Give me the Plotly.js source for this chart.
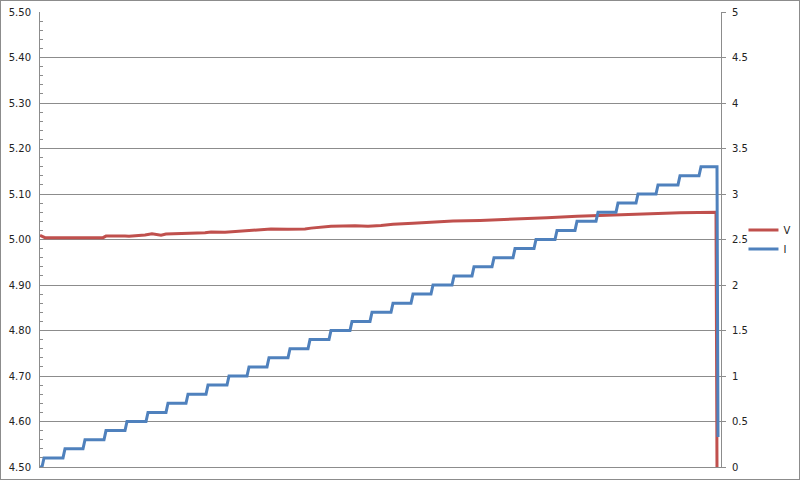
<!DOCTYPE html>
<html>
<head>
<meta charset="utf-8">
<script src="https://cdn.plot.ly/plotly-3.0.1.min.js"></script>
<style>
  html, body { margin: 0; padding: 0; background: #fff; }
  #chart { width: 800px; height: 480px; box-sizing: border-box; border: 1px solid #8c8c8c; }
</style>
</head>
<body>
<div id="chart"></div>
<script>
// Voltage series: time (s) and volts
var vTime = [0, 3, 5, 63, 66, 85, 89, 105, 112, 121, 126, 165, 171, 185, 208, 231, 248, 265, 271, 291, 315, 328, 341, 353, 373, 413, 440, 473, 477, 507, 537, 570, 597, 617, 640, 676, 677];
var vVolt = [5.009, 5.006, 5.004, 5.004, 5.0075, 5.0075, 5.007, 5.010, 5.0125, 5.0095, 5.012, 5.015, 5.0165, 5.016, 5.019, 5.023, 5.0225, 5.023, 5.025, 5.029, 5.030, 5.029, 5.031, 5.0334, 5.0356, 5.0407, 5.042, 5.0444, 5.046, 5.048, 5.051, 5.0534, 5.056, 5.056, 5.0589, 5.0598, 4.50];

// Current series: step times (s) where current rises to the next level (A)
var iStepTime = [3, 24, 44, 65, 86, 107, 127, 147, 167, 188, 208, 228, 249, 269, 290, 311, 331, 352, 372, 392, 413, 433, 453, 474, 495, 516, 536, 557, 577, 597, 617, 639, 660];
var iLevel = [0.1, 0.2, 0.3, 0.4, 0.5, 0.6, 0.7, 0.8, 0.9, 1.0, 1.1, 1.2, 1.3, 1.4, 1.5, 1.6, 1.7, 1.8, 1.9, 2.0, 2.1, 2.2, 2.3, 2.4, 2.5, 2.6, 2.7, 2.8, 2.9, 3.0, 3.1, 3.2, 3.3];
var iStartTime = 0, iStartLevel = 0;
var iEndTime = [677, 678];
var iEndLevel = [3.3, 0.33];

// build current trace points from the step table
var ix = [iStartTime], iy = [iStartLevel];
var prev = iStartLevel;
for (var k = 0; k < iStepTime.length; k++) {
  ix.push(iStepTime[k] - 1); iy.push(prev);
  ix.push(iStepTime[k] + 1); iy.push(iLevel[k]);
  prev = iLevel[k];
}
for (var j = 0; j < iEndTime.length; j++) { ix.push(iEndTime[j]); iy.push(iEndLevel[j]); }

var traces = [
  { x: vTime, y: vVolt, name: 'V', type: 'scatter', mode: 'lines',
    line: { color: '#C0504D', width: 3 }, yaxis: 'y' },
  { x: ix, y: iy, name: 'I', type: 'scatter', mode: 'lines',
    line: { color: '#4F81BD', width: 3 }, yaxis: 'y2' }
];

var layout = {
  width: 798, height: 478,
  margin: { l: 39, r: 78, t: 11, b: 12, pad: 0, autoexpand: false },
  paper_bgcolor: '#fff', plot_bgcolor: '#fff',
  font: { family: 'DejaVu Sans, Verdana, sans-serif', size: 10, color: '#222' },
  showlegend: true,
  legend: { x: 1.033, xanchor: 'left', y: 0.5, yanchor: 'middle',
            font: { size: 10, color: '#222' }, bgcolor: 'rgba(0,0,0,0)', tracegroupgap: 0 },
  xaxis: { range: [0, 681], showgrid: false, zeroline: false, showticklabels: false,
           ticks: '', showline: true, linecolor: '#8c8c8c', linewidth: 1 },
  yaxis: { range: [4.5, 5.5], dtick: 0.1, tick0: 4.5, tickformat: '.2f',
           showgrid: true, gridcolor: '#8c8c8c', gridwidth: 1, zeroline: false,
           showline: true, linecolor: '#8c8c8c', linewidth: 1,
           ticks: '', ticklabelstandoff: 6,
           minor: { dtick: 0.02, ticks: 'inside', ticklen: 3, tickcolor: '#8c8c8c', showgrid: false } },
  yaxis2: { range: [0, 5], dtick: 0.5, tick0: 0, overlaying: 'y', side: 'right',
            showgrid: false, zeroline: false, showline: true, linecolor: '#8c8c8c', linewidth: 1,
            ticks: 'outside', ticklen: 4, tickcolor: '#8c8c8c', ticklabelstandoff: 4 }
};

Plotly.newPlot('chart', traces, layout, { displayModeBar: false, staticPlot: true });
</script>
</body>
</html>
